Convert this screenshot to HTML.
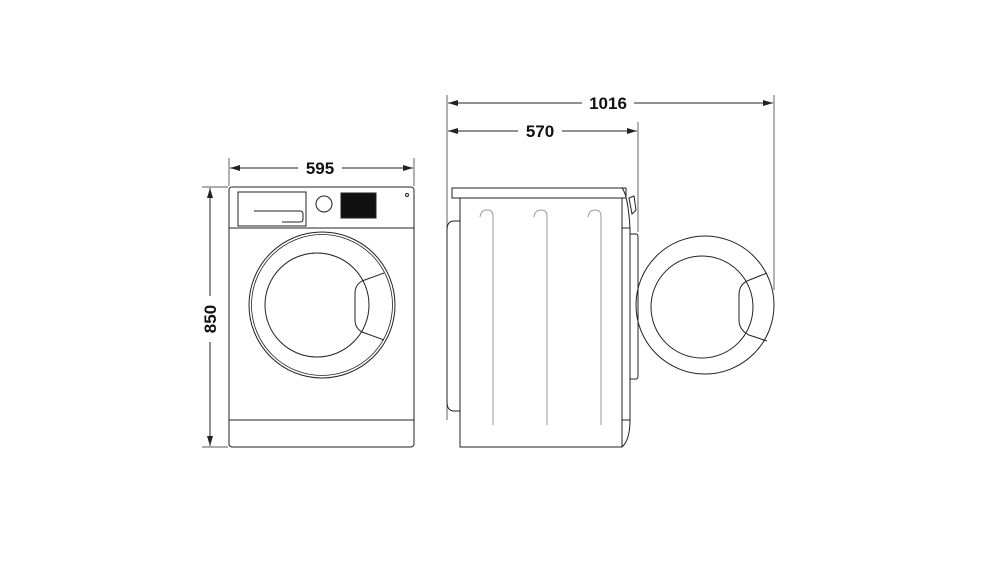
<!DOCTYPE html>
<html><head><style>html,body{margin:0;padding:0;background:#fff;}svg{display:block}</style></head>
<body>
<svg width="985" height="569" viewBox="0 0 985 569" xmlns="http://www.w3.org/2000/svg" font-family="'Liberation Sans', sans-serif">
<defs>
<marker id="a" viewBox="0 0 10 6" refX="10" refY="3" markerWidth="10" markerHeight="6" orient="auto-start-reverse" markerUnits="userSpaceOnUse"><path d="M0,0 L10,3 L0,6 Z" fill="#222"/></marker>
</defs>
<g stroke="#222" fill="none" stroke-width="1">
<!-- front dims -->
<line x1="229" y1="158" x2="229" y2="186" stroke-width="0.7"/>
<line x1="414" y1="158" x2="414" y2="186" stroke-width="0.7"/>
<line x1="230" y1="168" x2="298" y2="168" marker-start="url(#a)"/>
<line x1="342" y1="168" x2="413" y2="168" marker-end="url(#a)"/>
<line x1="202" y1="187" x2="228" y2="187" stroke-width="0.7"/>
<line x1="202" y1="447" x2="228" y2="447" stroke-width="0.7"/>
<line x1="210" y1="188" x2="210" y2="296" marker-start="url(#a)"/>
<line x1="210" y1="342" x2="210" y2="446" marker-end="url(#a)"/>
<!-- front body -->
<rect x="229" y="187" width="185" height="260" rx="3"/>
<line x1="229" y1="228" x2="414" y2="228"/>
<line x1="229" y1="420" x2="414" y2="420"/>
<rect x="238" y="192" width="68" height="34"/>
<path d="M254,211 H300 Q303,211 303,214 V219 Q303,222 300,222 H282"/>
<circle cx="324" cy="204" r="8"/>
<rect x="341" y="193" width="35" height="25" fill="#111"/>
<circle cx="407" cy="195" r="1.5"/>
<circle cx="322" cy="305" r="73"/>
<circle cx="322" cy="305" r="70.5" stroke-width="0.8"/>
<circle cx="317" cy="305" r="52"/>
<path d="M384,273 L362,281 Q355,285 355,293 L355,320 Q355,328 362,332 L384,340"/>
<!-- side dims -->
<line x1="447" y1="95" x2="447" y2="420" stroke-width="0.7"/>
<line x1="774" y1="95" x2="774" y2="290" stroke-width="0.7"/>
<line x1="638" y1="122" x2="638" y2="232" stroke-width="0.7"/>
<line x1="448" y1="103" x2="582" y2="103" marker-start="url(#a)"/>
<line x1="634" y1="103" x2="773" y2="103" marker-end="url(#a)"/>
<line x1="448" y1="131" x2="518" y2="131" marker-start="url(#a)"/>
<line x1="562" y1="131" x2="637" y2="131" marker-end="url(#a)"/>
<!-- side body -->
<rect x="452" y="188" width="174" height="10"/>
<rect x="460" y="198" width="162" height="249"/>
<path d="M460,221 H454 Q447,221 447,230 V402 Q447,411 454,411 H460"/>
<path d="M622,188 Q628,195 630,228 V420 Q630,440 622,447"/>
<line x1="622" y1="228" x2="630" y2="228"/>
<line x1="622" y1="420" x2="630" y2="420"/>
<path d="M629,198 L634,196 L636,210 L632,214 Z"/>
<path d="M630,234 H636 Q638,234 638,237 V376 Q638,379 636,379 H630"/>
<g stroke="#999">
<path d="M493,425 V216 Q493,210 487,210 Q481,210 480,217"/>
<path d="M547,425 V216 Q547,210 541,210 Q535,210 534,217"/>
<path d="M601,425 V216 Q601,210 595,210 Q589,210 588,217"/>
</g>
<circle cx="705" cy="305" r="69"/>
<circle cx="702" cy="307" r="51"/>
<path d="M767,273 L747,281 Q739,285 739,295 L739,320 Q739,330 749,335 L767,341"/>
</g>
<g font-weight="bold" font-size="17" fill="#111" text-anchor="middle">
<text x="320" y="174">595</text>
<text x="608" y="109">1016</text>
<text x="540" y="137">570</text>
<text transform="translate(216,319) rotate(-90)">850</text>
</g>
</svg>
</body></html>
